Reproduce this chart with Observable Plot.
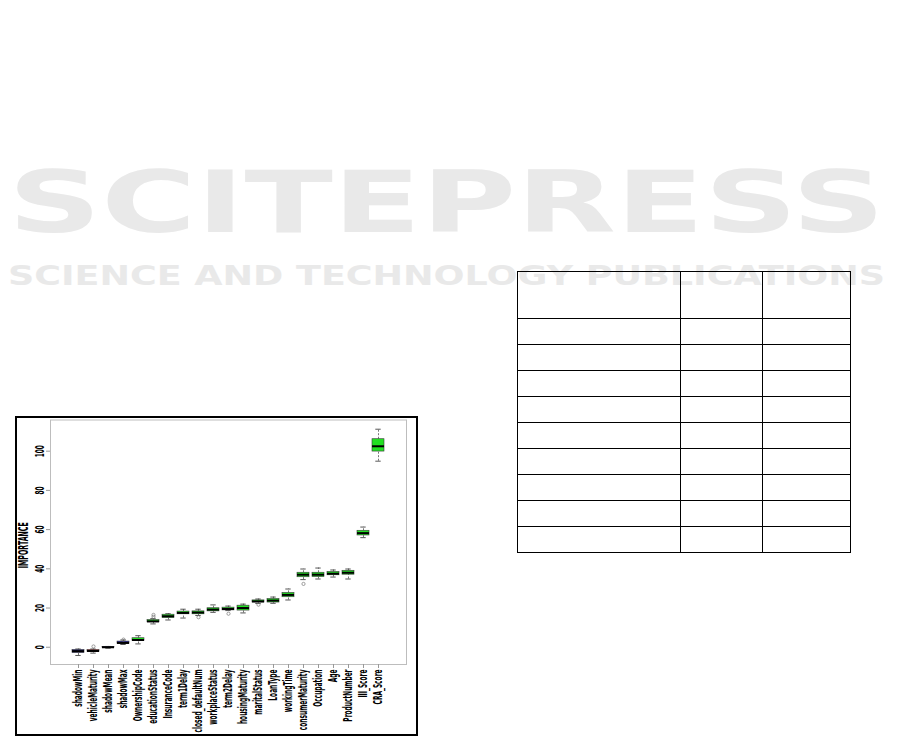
<!DOCTYPE html>
<html>
<head>
<meta charset="utf-8">
<script src="https://cdn.jsdelivr.net/npm/d3@7"></script>
<script src="https://cdn.jsdelivr.net/npm/@observablehq/plot@0.6"></script>
<style>
  html, body { margin: 0; padding: 0; background: #fff; }
  body { width: 901px; height: 737px; position: relative; overflow: hidden; font-family: "Liberation Sans", Arial, sans-serif; }
  #wm { position: absolute; left: 0; top: 0; }
  #fig { position: absolute; left: 15px; top: 416px; width: 403px; height: 320px; border: 2px solid #000; box-sizing: border-box; background: #fff; }
  #chart { position: absolute; left: 0; top: 0; }
  table.empty { position: absolute; left: 517px; top: 271px; border-collapse: collapse; }
  table.empty td { border: 1.5px solid #000; padding: 0; }
</style>
</head>
<body>
<svg id="wm" width="901" height="737">
  <text x="8" y="232" textLength="877" lengthAdjust="spacingAndGlyphs" font-family="DejaVu Sans, sans-serif" font-weight="bold" font-size="86" fill="#e9e9e9">SCITEPRESS</text>
  <text x="8" y="285" textLength="877" lengthAdjust="spacingAndGlyphs" font-family="DejaVu Sans, sans-serif" font-weight="bold" font-size="27" fill="#e9e9e9">SCIENCE AND TECHNOLOGY PUBLICATIONS</text>
</svg>
<table class="empty" id="tbl"></table>
<div id="fig"><div id="chart"></div></div>
<script>
// ---- data (Boruta importance box plot) ----
const categories = ["shadowMin","vehicleMaturity","shadowMean","shadowMax","OwnershipCode","educationStatus","InsuranceCode","term1Delay","closed_defaultNum","workplaceStatus","term2Delay","housingMaturity","maritalStatus","LoanType","workingTime","consumerMaturity","Occupation","Age","ProductNumber","III_Score","CRA_Score"];
const decision = ["shadow","rejected","shadow","shadow","confirmed","confirmed","confirmed","confirmed","confirmed","confirmed","confirmed","confirmed","confirmed","confirmed","confirmed","confirmed","confirmed","confirmed","confirmed","confirmed","confirmed"];
const whiskerLow  = [-4.2,-3.0,-0.5,1.4,1.7,11.9,13.9,14.9,16.2,17.8,18.7,17.5,22.3,22.4,24.1,34.5,34.8,35.8,34.8,55.9,94.9];
const q1          = [-2.9,-2.5,-0.2,1.7,3.1,12.7,14.9,16.8,16.8,18.3,18.8,18.7,22.8,22.8,25.5,35.7,35.8,36.7,37.0,57.0,99.8];
const median      = [-2.0,-1.9, 0.0,2.2,3.7,13.2,15.8,17.5,17.7,19.2,19.5,20.0,23.4,23.8,26.7,37.0,37.0,37.5,38.0,58.2,102.5];
const q3          = [-1.4,-1.4, 0.2,2.9,4.6,13.9,16.6,18.2,18.3,19.9,20.2,21.2,23.9,24.6,27.7,38.0,38.0,38.4,39.0,59.4,106.1];
const whiskerHigh = [-0.9,-0.9, 0.4,3.7,5.9,14.6,17.1,19.4,19.4,21.6,21.0,22.0,24.6,25.6,29.7,39.9,40.4,39.4,39.9,61.3,111.2];
const outlierCategory = ["vehicleMaturity","shadowMax","educationStatus","educationStatus","closed_defaultNum","term2Delay","maritalStatus","consumerMaturity"];
const outlierValue    = [0.4,3.9,16.5,15.5,15.3,17.1,21.7,32.3];
const yTicks = [0,20,40,60,80,100];
const yLabel = "IMPORTANCE";
const decisionColors = {domain: ["shadow","rejected","confirmed"], range: ["#1f1f9c","#c42222","#22e022"]};
// empty table on the page: header + 9 rows, 3 columns
const tableColumnWidths = [162,81,87];
const tableRowHeights = [46,25,25,25,25,25,25,25,25,25];

// ---- build table ----
const tbl = document.getElementById("tbl");
tableRowHeights.forEach(h => {
  const tr = document.createElement("tr");
  tableColumnWidths.forEach(w => {
    const td = document.createElement("td");
    td.style.width = w + "px"; td.style.height = h + "px";
    tr.appendChild(td);
  });
  tbl.appendChild(tr);
});

// ---- chart ----
const rows = categories.map((c, i) => ({category: c, decision: decision[i], lo: whiskerLow[i], q1: q1[i], med: median[i], q3: q3[i], hi: whiskerHigh[i]}));
const outliers = outlierCategory.map((c, i) => ({category: c, value: outlierValue[i]}));
const font = '"DejaVu Sans Condensed", "DejaVu Sans", sans-serif';

const chart = Plot.plot({
  width: 399,
  height: 316,
  marginLeft: 33,
  marginRight: 10,
  marginTop: 1.5,
  marginBottom: 70,
  style: {fontFamily: font, fontSize: "12px", fontWeight: "bold", color: "#000", background: "transparent", overflow: "visible"},
  x: {type: "band", domain: categories, paddingInner: 0.17, paddingOuter: 0.92, label: null},
  y: {domain: [-8.8, 115.9], label: null},
  color: decisionColors,
  marks: [
    Plot.frame({stroke: "#bdbdbd", strokeWidth: 1}),
    Plot.axisX({tickRotate: -90, tickSize: 4, tickPadding: 1, stroke: "#999", label: null, fontSize: 12}),
    Plot.axisY({ticks: yTicks, tickRotate: -90, tickSize: 4, tickPadding: 3, stroke: "#999", label: null, fontSize: 12}),
    Plot.text([yLabel], {frameAnchor: "left", text: d => d, rotate: -90, textAnchor: "middle", dx: -27, dy: 3, fontSize: 14, fontWeight: "bold", fill: "#000"}),
    Plot.ruleX(rows, {x: "category", y1: "lo", y2: "q1", stroke: "#555", strokeWidth: 0.8, strokeDasharray: "2,1.5"}),
    Plot.ruleX(rows, {x: "category", y1: "q3", y2: "hi", stroke: "#555", strokeWidth: 0.8, strokeDasharray: "2,1.5"}),
    Plot.tickY(rows, {x: "category", y: "lo", insetLeft: 3.3, insetRight: 3.3, stroke: "#444", strokeWidth: 0.9}),
    Plot.tickY(rows, {x: "category", y: "hi", insetLeft: 3.3, insetRight: 3.3, stroke: "#444", strokeWidth: 0.9}),
    Plot.barY(rows, {x: "category", y1: "q1", y2: "q3", fill: "decision", stroke: "#3a3a3a", strokeWidth: 0.6}),
    Plot.tickY(rows, {x: "category", y: "med", stroke: "#000", strokeWidth: 2}),
    Plot.dot(outliers, {x: "category", y: "value", r: 1.6, stroke: "#777", strokeWidth: 0.7, fill: "none"})
  ]
});
document.getElementById("chart").appendChild(chart);

// Narrow the text like the compressed R output (squeeze glyphs along the text direction).
function squeeze(texts, factor) {
  texts.forEach(t => {
    const L = t.getComputedTextLength();
    t.setAttribute("textLength", (L * factor).toFixed(2));
    t.setAttribute("lengthAdjust", "spacingAndGlyphs");
  });
}
const xTexts = Array.from(chart.querySelectorAll('g[aria-label="x-axis tick label"] text'));
const refX = xTexts.find(t => t.textContent === "closed_defaultNum");
if (refX) squeeze(xTexts, 63 / refX.getComputedTextLength());
const yTexts = Array.from(chart.querySelectorAll('g[aria-label="y-axis tick label"] text'));
const refY = yTexts.find(t => t.textContent === "100");
if (refY) squeeze(yTexts, 12 / refY.getComputedTextLength());
const lab = Array.from(chart.querySelectorAll('g[aria-label="text"] text')).filter(t => t.textContent === yLabel);
if (lab.length) squeeze(lab, 46 / lab[0].getComputedTextLength());
</script>
</body>
</html>
